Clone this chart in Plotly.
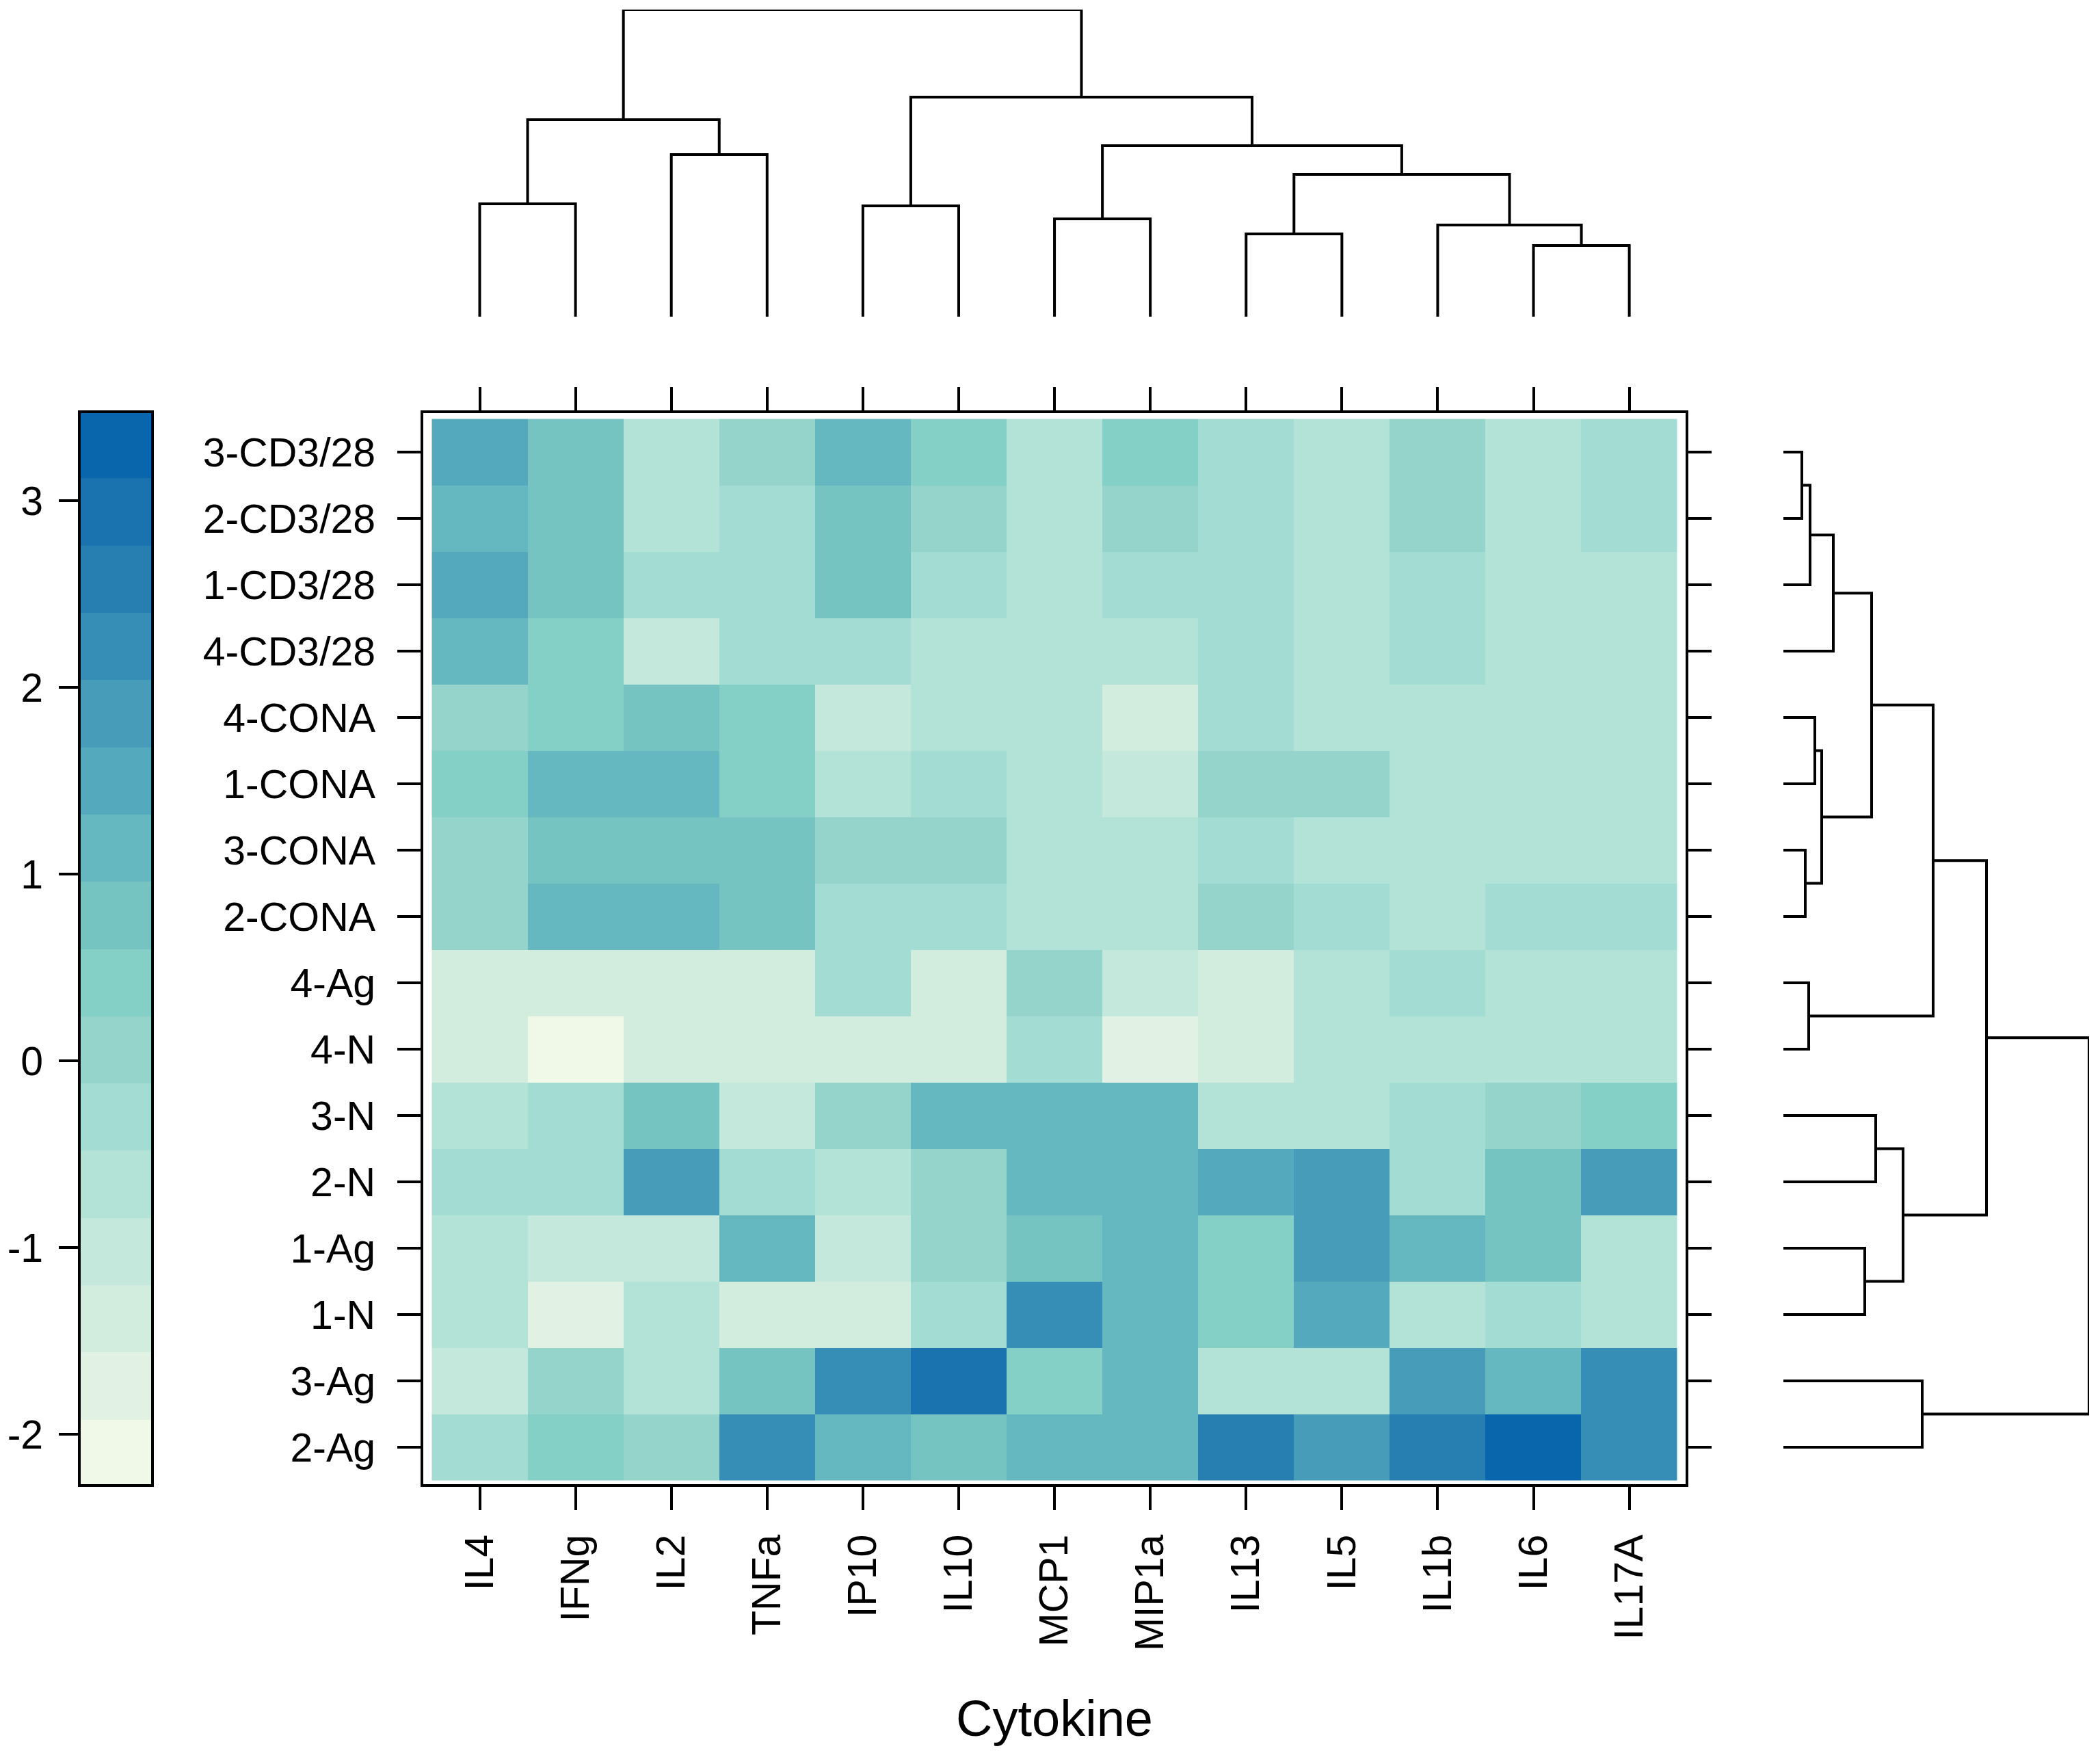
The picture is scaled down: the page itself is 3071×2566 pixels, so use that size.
import plotly.graph_objects as go

W, H = 3071, 2566

cytokines = ["IL4", "IFNg", "IL2", "TNFa", "IP10", "IL10", "MCP1", "MIP1a", "IL13", "IL5", "IL1b", "IL6", "IL17A"]
samples = ["3-CD3/28", "2-CD3/28", "1-CD3/28", "4-CD3/28", "4-CONA", "1-CONA", "3-CONA", "2-CONA",
           "4-Ag", "4-N", "3-N", "2-N", "1-Ag", "1-N", "3-Ag", "2-Ag"]

values = [
    [1.50, 0.78, -0.66, 0.06, 1.14, 0.42, -0.66, 0.42, -0.30, -0.66, 0.06, -0.66, -0.30],
    [1.14, 0.78, -0.66, -0.30, 0.78, 0.06, -0.66, 0.06, -0.30, -0.66, 0.06, -0.66, -0.30],
    [1.50, 0.78, -0.30, -0.30, 0.78, -0.30, -0.66, -0.30, -0.30, -0.66, -0.30, -0.66, -0.66],
    [1.14, 0.42, -1.02, -0.30, -0.30, -0.66, -0.66, -0.66, -0.30, -0.66, -0.30, -0.66, -0.66],
    [0.06, 0.42, 0.78, 0.42, -1.02, -0.66, -0.66, -1.38, -0.30, -0.66, -0.66, -0.66, -0.66],
    [0.42, 1.14, 1.14, 0.42, -0.66, -0.30, -0.66, -1.02, 0.06, 0.06, -0.66, -0.66, -0.66],
    [0.06, 0.78, 0.78, 0.78, 0.06, 0.06, -0.66, -0.66, -0.30, -0.66, -0.66, -0.66, -0.66],
    [0.06, 1.14, 1.14, 0.78, -0.30, -0.30, -0.66, -0.66, 0.06, -0.30, -0.66, -0.30, -0.30],
    [-1.38, -1.38, -1.38, -1.38, -0.30, -1.38, 0.06, -1.02, -1.38, -0.66, -0.30, -0.66, -0.66],
    [-1.38, -2.10, -1.38, -1.38, -1.38, -1.38, -0.30, -1.74, -1.38, -0.66, -0.66, -0.66, -0.66],
    [-0.66, -0.30, 0.78, -1.02, 0.06, 1.14, 1.14, 1.14, -0.66, -0.66, -0.30, 0.06, 0.42],
    [-0.30, -0.30, 1.86, -0.30, -0.66, 0.06, 1.14, 1.14, 1.50, 1.86, -0.30, 0.78, 1.86],
    [-0.66, -1.02, -1.02, 1.14, -1.02, 0.06, 0.78, 1.14, 0.42, 1.86, 1.14, 0.78, -0.66],
    [-0.66, -1.74, -0.66, -1.38, -1.38, -0.30, 2.22, 1.14, 0.42, 1.50, -0.66, -0.30, -0.66],
    [-1.02, 0.06, -0.66, 0.78, 2.22, 2.94, 0.42, 1.14, -0.66, -0.66, 1.86, 1.14, 2.22],
    [-0.30, 0.42, 0.06, 2.22, 1.14, 0.78, 1.14, 1.14, 2.58, 1.86, 2.58, 3.30, 2.22],
]

palette = ["#F0F8E8", "#E1F2E4", "#D2EDDE", "#C4E8DB", "#B3E2D6", "#A3DCD2", "#95D4CA", "#84CFC6",
           "#76C4C1", "#65B8C0", "#54A9BD", "#479CB9", "#368DB5", "#277FB1", "#1A73AE", "#0966AC"]
key_levels = [-2.10, -1.74, -1.38, -1.02, -0.66, -0.30, 0.06, 0.42, 0.78, 1.14, 1.50, 1.86, 2.22, 2.58, 2.94, 3.30]
key_ticks = [-2, -1, 0, 1, 2, 3]
key_labels = ["-2", "-1", "0", "1", "2", "3"]
z_low, z_high = -2.28, 3.48

# hclust-style merges: (child, child, height); negative child = earlier merge (1-based)
col_merges = [(0, 1, 165), (2, 3, 237), (-1, -2, 288), (4, 5, 162), (6, 7, 143), (8, 9, 121),
              (11, 12, 104), (10, -7, 134), (-6, -8, 208), (-5, -9, 250), (-4, -10, 321), (-3, -11, 449)]
row_merges = [(0, 1, 27), (-1, 2, 39), (-2, 3, 73), (4, 5, 46), (6, 7, 32), (-4, -5, 56), (-3, -6, 129),
              (8, 9, 37), (-7, -8, 219), (10, 11, 135), (12, 13, 119), (-10, -11, 175), (-9, -12, 297),
              (14, 15, 203), (-13, -14, 447)]

FONT = "Liberation Sans"
INK = "#000000"
FS = 59
LW = 4
TW = 4
TL = 34
FRAME_W = 4


def tree_paths(merges):
    """Return pos, height lists with None breaks for a merge table."""
    done = {}
    pos, hgt = [], []
    for k, (a, b, h) in enumerate(merges, start=1):
        pa, ha = (a, 0) if a >= 0 else done[-a]
        pb, hb = (b, 0) if b >= 0 else done[-b]
        pos += [pa, pa, pb, pb, None]
        hgt += [ha, h, h, hb, None]
        done[k] = ((pa + pb) / 2, h)
    return pos, hgt


def xd(a, b):
    return [a / W, b / W]


def yd(top, bottom):
    return [1 - bottom / H, 1 - top / H]


scale = []
for i, c in enumerate(palette):
    scale += [[i / 16, c], [(i + 1) / 16, c]]

fig = go.Figure()

fig.add_trace(go.Heatmap(z=values, x=list(range(13)), y=list(range(16)), colorscale=scale,
                         zmin=z_low, zmax=z_high, showscale=False, xaxis="x", yaxis="y",
                         hovertemplate="%{z}<extra></extra>"))
fig.add_trace(go.Heatmap(z=[[v] for v in key_levels], x=[0], y=key_levels, colorscale=scale,
                         zmin=z_low, zmax=z_high, showscale=False, xaxis="x2", yaxis="y2",
                         hovertemplate="%{z}<extra></extra>"))

cp, ch = tree_paths(col_merges)
fig.add_trace(go.Scatter(x=cp, y=ch, mode="lines", line=dict(color=INK, width=LW), xaxis="x3", yaxis="y3",
                         cliponaxis=False, hoverinfo="skip", connectgaps=False))
rp, rh = tree_paths(row_merges)
fig.add_trace(go.Scatter(x=rh, y=rp, mode="lines", line=dict(color=INK, width=LW), xaxis="x4", yaxis="y4",
                         cliponaxis=False, hoverinfo="skip", connectgaps=False))

tick_font = dict(family=FONT, size=FS, color=INK)
frame = dict(showline=True, linecolor=INK, linewidth=FRAME_W, mirror="ticks", ticks="outside",
             ticklen=TL, tickwidth=TW, tickcolor=INK, showgrid=False, zeroline=False, tickfont=tick_font)
col_range = [-0.589, 12.588]
row_range = [15.557, -0.588]
main_x = xd(619, 2465)
main_y = yd(604, 2170)

fig.update_layout(
    width=W, height=H, margin=dict(l=0, r=0, t=0, b=0), autosize=False,
    paper_bgcolor="white", plot_bgcolor="white", showlegend=False, font=dict(family=FONT, color=INK),
    xaxis=dict(domain=main_x, range=col_range, anchor="y", tickmode="array",
               tickvals=list(range(13)), ticktext=cytokines, tickangle=-90, ticklabelstandoff=12,
               title=dict(text="Cytokine", font=dict(family=FONT, size=74, color=INK), standoff=74), **frame),
    yaxis=dict(domain=main_y, range=row_range, anchor="x", tickmode="array",
               tickvals=list(range(16)), ticktext=samples, ticklabelstandoff=20, **frame),
    xaxis2=dict(domain=xd(118, 221), range=[-0.5, 0.5], anchor="y2", showline=True, linecolor=INK, linewidth=FRAME_W,
                mirror=True, ticks="", showticklabels=False, showgrid=False, zeroline=False),
    yaxis2=dict(domain=main_y, range=[-2.267, 3.469], anchor="x2", showline=True, linecolor=INK, linewidth=FRAME_W,
                mirror=True, ticks="outside", ticklen=28, tickwidth=TW, tickcolor=INK, tickmode="array",
                tickvals=key_ticks, ticktext=key_labels, tickfont=tick_font, ticklabelstandoff=11,
                showgrid=False, zeroline=False),
    xaxis3=dict(domain=main_x, range=col_range, anchor="y3", visible=False),
    yaxis3=dict(domain=yd(14, 463), range=[0, 449], anchor="x3", visible=False),
    xaxis4=dict(domain=xd(2608, 3055), range=[0, 447], anchor="y4", visible=False),
    yaxis4=dict(domain=main_y, range=row_range, anchor="x4", visible=False),
)

fig.write_html("out.html", config=dict(displayModeBar=False),
               post_script="document.body.style.margin='0';document.documentElement.style.overflow='hidden';")
